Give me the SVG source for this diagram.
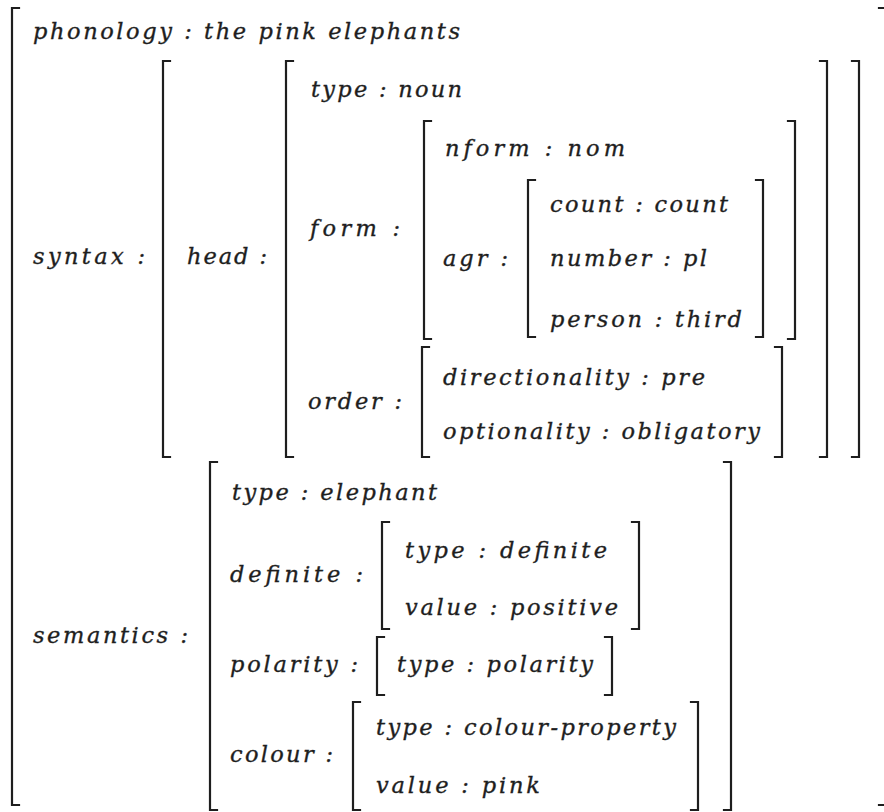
<svg xmlns="http://www.w3.org/2000/svg" width="884" height="812" viewBox="0 0 884 812">
<style>
.b{fill:none;stroke:#1e1e1e;stroke-width:2.2;stroke-linecap:square}
text{font-family:"DejaVu Serif","Liberation Serif",serif;font-style:italic;font-size:22.5px;fill:#1e1e1e;stroke:#1e1e1e;stroke-width:0.35}
</style>
<rect width="884" height="812" fill="#ffffff"/>
<g id="outer">
<path class="b" d="M19,8 H12 V805 H19"/>
<path class="b" d="M879,8 H886 V805 H879"/>
<text x="33" y="39" textLength="427" lengthAdjust="spacing">phonology : the pink elephants</text>
<text x="33" y="264" textLength="112" lengthAdjust="spacing">syntax :</text>
<text x="33" y="643" textLength="155" lengthAdjust="spacing">semantics :</text>
</g>
<g id="syntax">
<path class="b" d="M170,61 H163 V457 H170"/>
<path class="b" d="M852,61 H859 V457 H852"/>
<text x="187" y="264" textLength="80" lengthAdjust="spacing">head :</text>
</g>
<g id="head">
<path class="b" d="M293,61 H286 V457 H293"/>
<path class="b" d="M820,61 H827 V457 H820"/>
<text x="311" y="97" textLength="151" lengthAdjust="spacing">type : noun</text>
<text x="310" y="236" textLength="90" lengthAdjust="spacing">form :</text>
<text x="308" y="409" textLength="94" lengthAdjust="spacing">order :</text>
</g>
<g id="form">
<path class="b" d="M431,121 H424 V339 H431"/>
<path class="b" d="M788,121 H795 V339 H788"/>
<text x="445" y="156" textLength="180" lengthAdjust="spacing">nform : nom</text>
<text x="443" y="266" textLength="65" lengthAdjust="spacing">agr :</text>
</g>
<g id="agr">
<path class="b" d="M535,180 H528 V337 H535"/>
<path class="b" d="M756,180 H763 V337 H756"/>
<text x="550" y="212" textLength="178" lengthAdjust="spacing">count : count</text>
<text x="550" y="266" textLength="157" lengthAdjust="spacing">number : pl</text>
<text x="550" y="327" textLength="192" lengthAdjust="spacing">person : third</text>
</g>
<g id="order">
<path class="b" d="M429,347 H422 V457 H429"/>
<path class="b" d="M775,347 H782 V457 H775"/>
<text x="443" y="385" textLength="262" lengthAdjust="spacing">directionality : pre</text>
<text x="443" y="439" textLength="317" lengthAdjust="spacing">optionality : obligatory</text>
</g>
<g id="semantics">
<path class="b" d="M217,462 H210 V810 H217"/>
<path class="b" d="M724,462 H731 V810 H724"/>
<text x="232" y="500" textLength="205" lengthAdjust="spacing">type : elephant</text>
<text x="230" y="582" textLength="133" lengthAdjust="spacing">definite :</text>
<text x="230" y="672" textLength="128" lengthAdjust="spacing">polarity :</text>
<text x="230" y="762" textLength="103" lengthAdjust="spacing">colour :</text>
</g>
<g id="definite">
<path class="b" d="M389,522 H382 V629 H389"/>
<path class="b" d="M632,522 H639 V629 H632"/>
<text x="405" y="558" textLength="202" lengthAdjust="spacing">type : definite</text>
<text x="405" y="615" textLength="213" lengthAdjust="spacing">value : positive</text>
</g>
<g id="polarity">
<path class="b" d="M384,637 H377 V695 H384"/>
<path class="b" d="M605,637 H612 V695 H605"/>
<text x="397" y="672" textLength="196" lengthAdjust="spacing">type : polarity</text>
</g>
<g id="colour">
<path class="b" d="M360,702 H353 V810 H360"/>
<path class="b" d="M691,702 H698 V810 H691"/>
<text x="376" y="735" textLength="300" lengthAdjust="spacing">type : colour-property</text>
<text x="376" y="793" textLength="164" lengthAdjust="spacing">value : pink</text>
</g>
</svg>
